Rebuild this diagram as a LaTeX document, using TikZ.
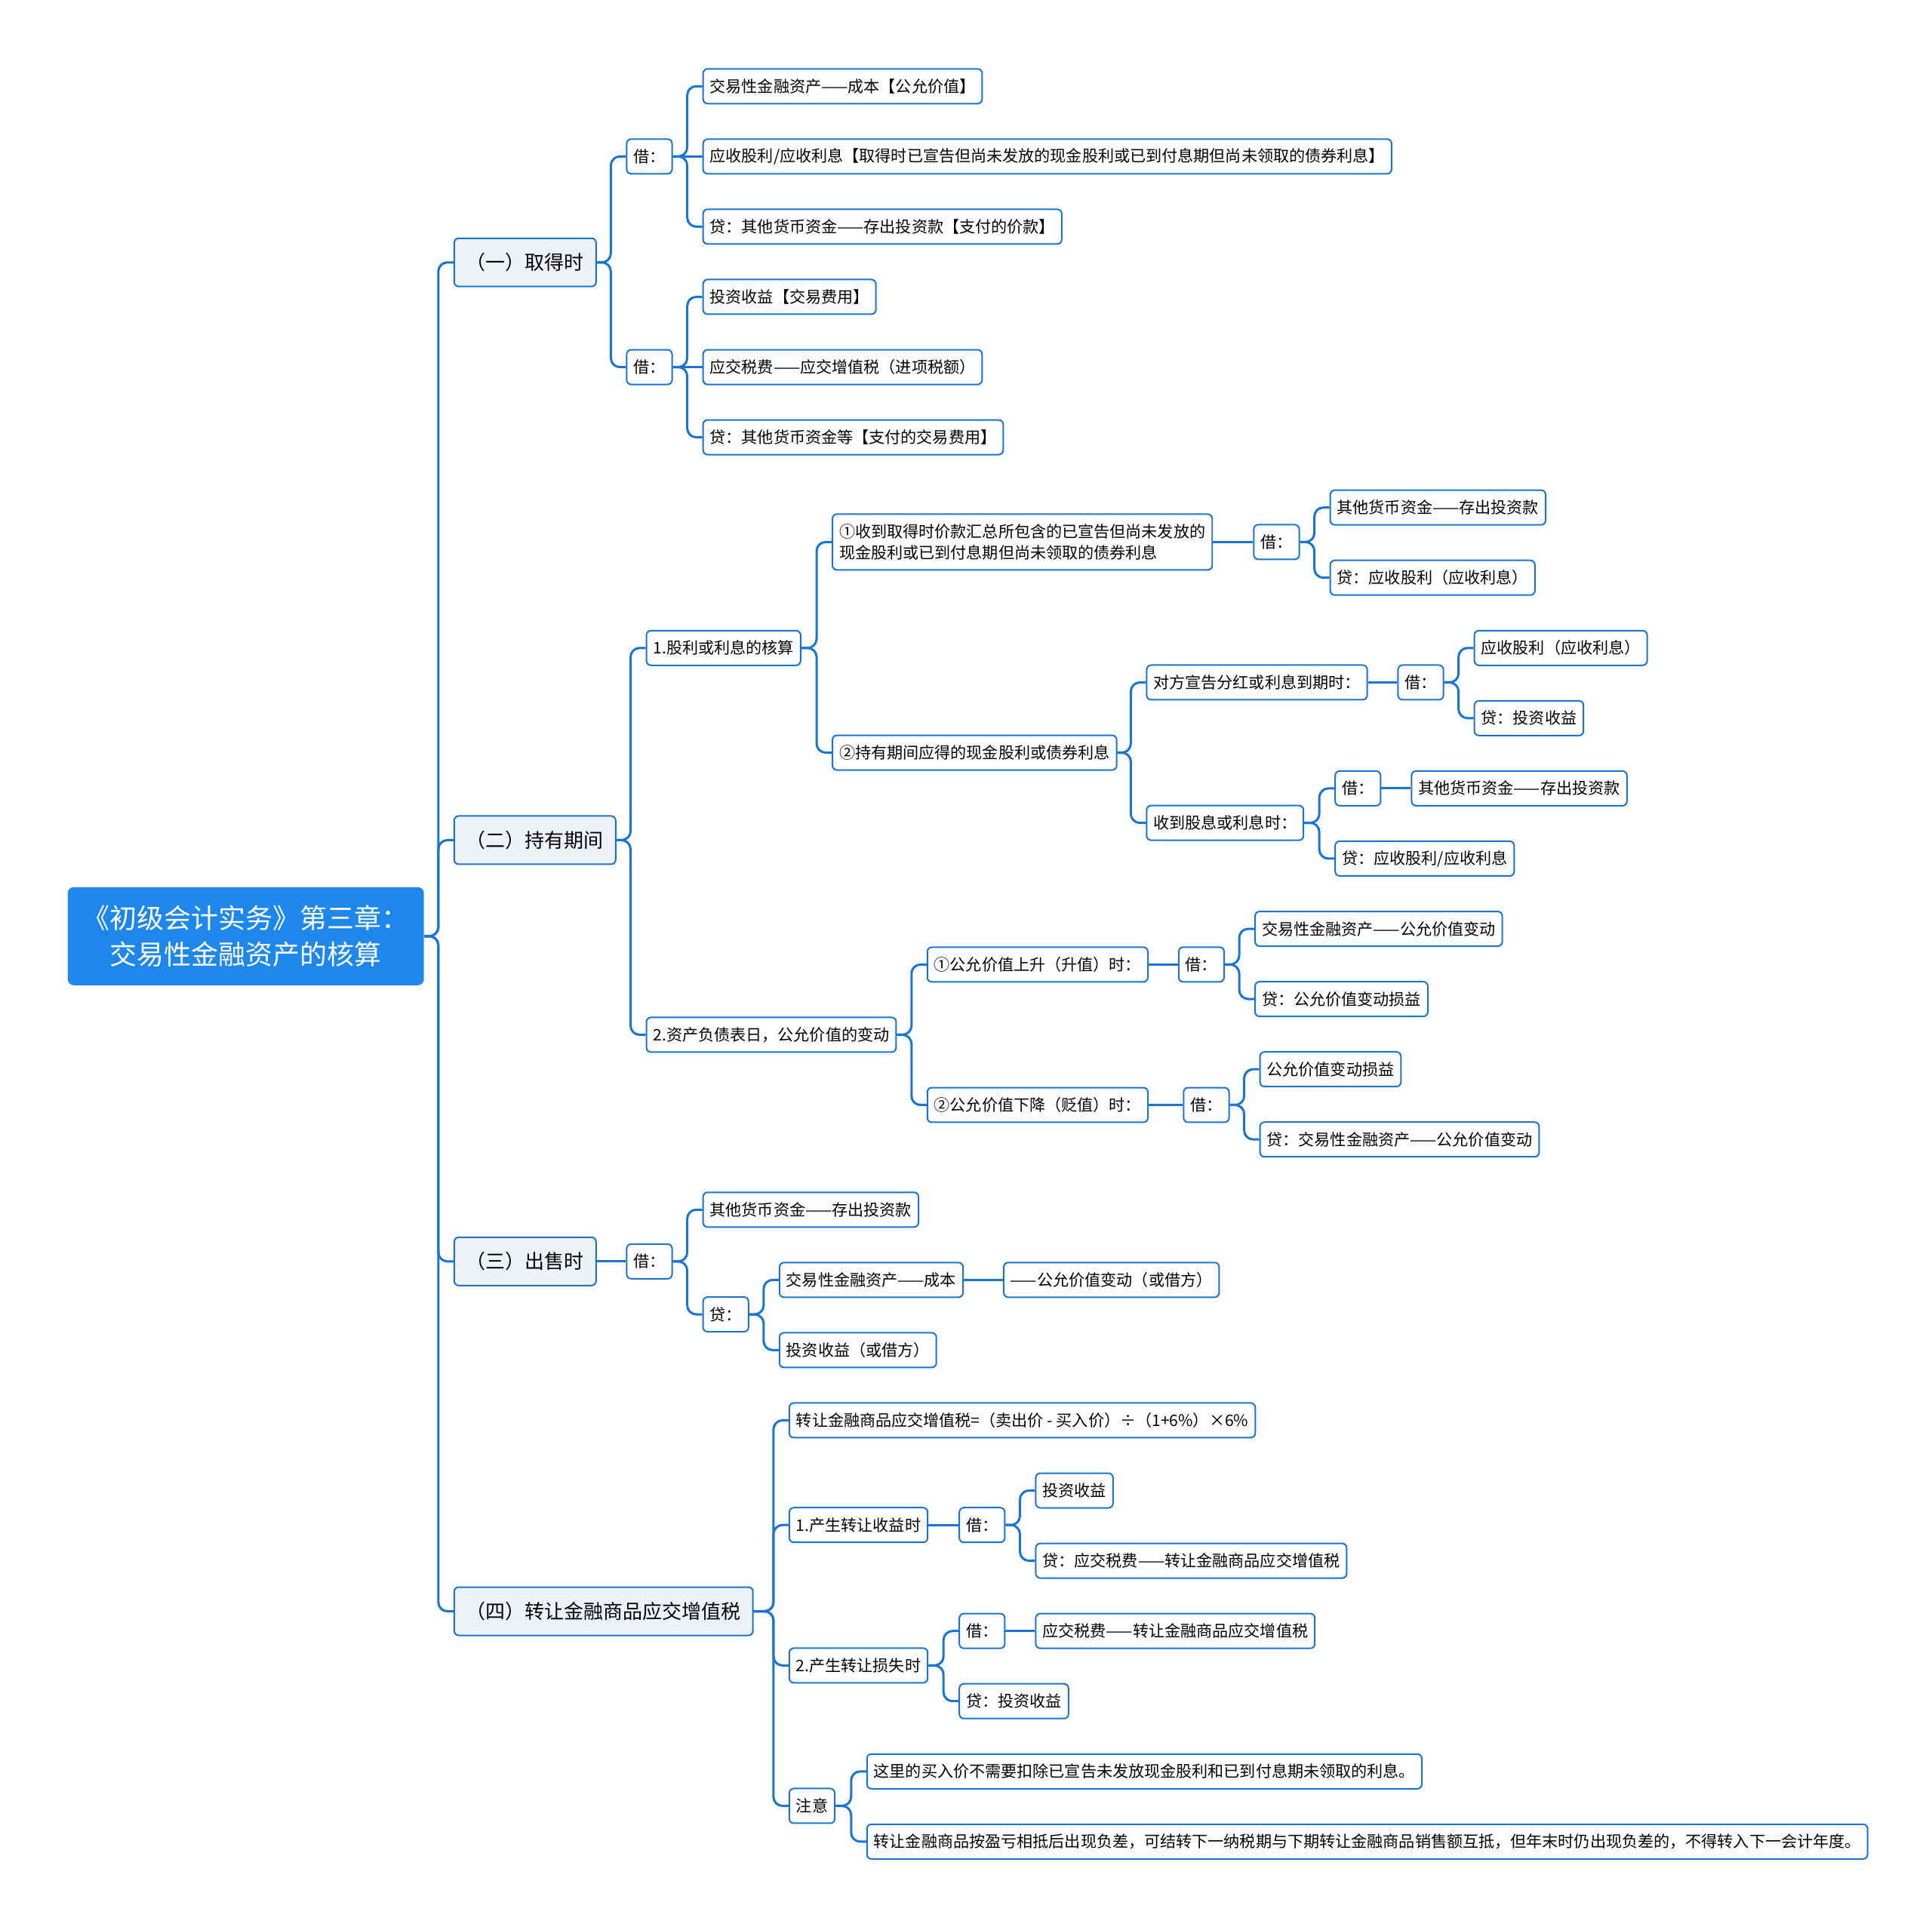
\documentclass[tikz,border=0pt]{standalone}
\usepackage{fontspec}
\setmainfont{Noto Sans CJK SC}
\definecolor{lnblue}{HTML}{1A74D2}
\definecolor{rootblue}{HTML}{1E87EB}
\definecolor{lvfill}{HTML}{EEF2F7}
\tikzset{
  box/.style={draw=lnblue, line width=1pt, rounded corners=3pt, fill=white,
    anchor=west, inner xsep=4.5pt, inner ysep=2pt, minimum height=23pt,
    font=\fontsize{10.55}{14}\selectfont},
  lvone/.style={box, fill=lvfill, minimum height=32pt, inner xsep=8pt,
    font=\fontsize{13}{16}\selectfont},
  rootbox/.style={fill=rootblue, text=white, rounded corners=4pt,
    minimum width=236pt, minimum height=65pt, align=center,
    font=\fontsize{18}{24}\selectfont},
  link/.style={draw=lnblue, line width=1.5pt, rounded corners=6pt}
}
\begin{document}
\begin{tikzpicture}[x=0.8165pt,y=-0.8165pt]
\useasboundingbox (0,0) rectangle (1568,1564);
% root
\node[rootbox] (root) at (199.5,760) {《初级会计实务》第三章：\\交易性金融资产的核算};
% main branches
\node[lvone] (qd) at (368,213) {（一）取得时};
\node[lvone] (cy) at (368,682) {（二）持有期间};
\node[lvone] (cs) at (368,1024) {（三）出售时};
\node[lvone] (zr) at (368,1308) {（四）转让金融商品应交增值税};
% (一) 取得时
\node[box] (qdja) at (508,127) {借：};
\node[box] (qdjb) at (508,298) {借：};
\node[box] (qda1) at (570,70) {交易性金融资产——成本【公允价值】};
\node[box] (qda2) at (570,127) {应收股利/应收利息【取得时已宣告但尚未发放的现金股利或已到付息期但尚未领取的债券利息】};
\node[box] (qda3) at (570,184) {贷：其他货币资金——存出投资款【支付的价款】};
\node[box] (qdb1) at (570,241) {投资收益【交易费用】};
\node[box] (qdb2) at (570,298) {应交税费——应交增值税（进项税额）};
\node[box] (qdb3) at (570,355) {贷：其他货币资金等【支付的交易费用】};
% (二) 持有期间
\node[box] (gl) at (524,526) {1.股利或利息的核算};
\node[box] (zc) at (524,840) {2.资产负债表日，公允价值的变动};
\node[box, align=left, minimum height=37pt] (sd) at (675,440) {①收到取得时价款汇总所包含的已宣告但尚未发放的\\现金股利或已到付息期但尚未领取的债券利息};
\node[box] (sdj) at (1017,440) {借：};
\node[box] (sdj1) at (1079,412) {其他货币资金——存出投资款};
\node[box] (sdd) at (1079,469) {贷：应收股利（应收利息）};
\node[box] (yd) at (675,611) {②持有期间应得的现金股利或债券利息};
\node[box] (xg) at (930,554) {对方宣告分红或利息到期时：};
\node[box] (xgj) at (1134,554) {借：};
\node[box] (xgj1) at (1196,526) {应收股利（应收利息）};
\node[box] (xgd) at (1196,583) {贷：投资收益};
\node[box] (sx) at (930,668) {收到股息或利息时：};
\node[box] (sxj) at (1083,640) {借：};
\node[box] (sxj1) at (1145,640) {其他货币资金——存出投资款};
\node[box] (sxd) at (1083,697) {贷：应收股利/应收利息};
\node[box] (ss) at (752,783) {①公允价值上升（升值）时：};
\node[box] (ssj) at (956,783) {借：};
\node[box] (ssj1) at (1018,754) {交易性金融资产——公允价值变动};
\node[box] (ssd) at (1018,811) {贷：公允价值变动损益};
\node[box] (xj) at (752,897) {②公允价值下降（贬值）时：};
\node[box] (xjj) at (960,897) {借：};
\node[box] (xjj1) at (1022,868) {公允价值变动损益};
\node[box] (xjd) at (1022,925) {贷：交易性金融资产——公允价值变动};
% (三) 出售时
\node[box] (csj) at (508,1024) {借：};
\node[box] (csj1) at (570,982) {其他货币资金——存出投资款};
\node[box] (csd) at (570,1067) {贷：};
\node[box] (csd1) at (632,1039) {交易性金融资产——成本};
\node[box] (csd2) at (814,1039) {——公允价值变动（或借方）};
\node[box] (csd3) at (632,1096) {投资收益（或借方）};
% (四) 转让金融商品应交增值税
\node[box] (gs) at (640,1153) {转让金融商品应交增值税=（卖出价 - 买入价）÷（1+6\%）×6\%};
\node[box] (sy) at (640,1238) {1.产生转让收益时};
\node[box] (syj) at (778,1238) {借：};
\node[box] (syj1) at (840,1210) {投资收益};
\node[box] (syd) at (840,1267) {贷：应交税费——转让金融商品应交增值税};
\node[box] (shs) at (640,1352) {2.产生转让损失时};
\node[box] (shsj) at (778,1324) {借：};
\node[box] (shsj1) at (840,1324) {应交税费——转让金融商品应交增值税};
\node[box] (shsd) at (778,1381) {贷：投资收益};
\node[box] (zy) at (640,1466) {注意};
\node[box] (zy1) at (703,1438) {这里的买入价不需要扣除已宣告未发放现金股利和已到付息期未领取的利息。};
\node[box] (zy2) at (703,1495) {转让金融商品按盈亏相抵后出现负差，可结转下一纳税期与下期转让金融商品销售额互抵，但年末时仍出现负差的，不得转入下一会计年度。};
% connectors: bent ones
\foreach \p/\c in {root/qd,root/cy,root/cs,root/zr,
  qd/qdja,qd/qdjb,qdja/qda1,qdja/qda3,qdjb/qdb1,qdjb/qdb3,
  cy/gl,cy/zc,gl/sd,gl/yd,sdj/sdj1,sdj/sdd,yd/xg,yd/sx,xgj/xgj1,xgj/xgd,
  sx/sxj,sx/sxd,zc/ss,zc/xj,ssj/ssj1,ssj/ssd,xjj/xjj1,xjj/xjd,
  csj/csj1,csj/csd,csd/csd1,csd/csd3,
  zr/gs,zr/sy,zr/shs,zr/zy,syj/syj1,syj/syd,shs/shsj,shs/shsd,zy/zy1,zy/zy2}
  \draw[link] (\p.east) -| ([xshift=-10pt]\c.west) -- (\c.west);
% connectors: straight ones
\foreach \p/\c in {sd/sdj,xg/xgj,sxj/sxj1,ss/ssj,xj/xjj,cs/csj,csd1/csd2,
  sy/syj,shsj/shsj1,qdja/qda2,qdjb/qdb2}
  \draw[link] (\p.east) -- (\c.west);
\end{tikzpicture}
\end{document}
